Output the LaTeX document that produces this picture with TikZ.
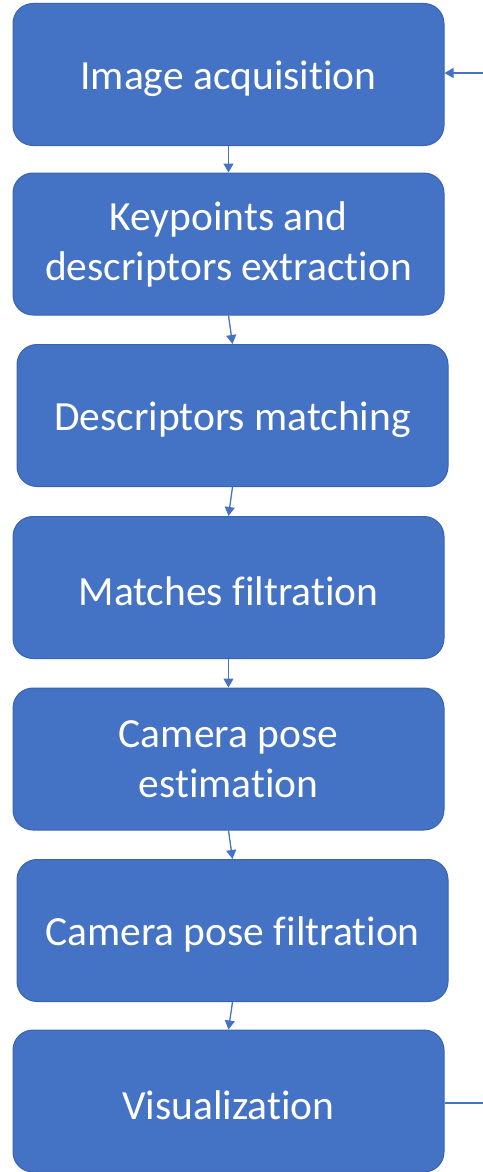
\documentclass[tikz,border=0pt]{standalone}
\usepackage{fontspec}
\setmainfont{Carlito}[Ligatures={NoCommon}]
\usetikzlibrary{arrows.meta}
\definecolor{boxblue}{HTML}{4472C4}
\definecolor{boxedge}{HTML}{3A64B0}
\tikzset{
  stepbox/.style={draw=boxedge, line width=1pt, fill=boxblue, rounded corners=20pt,
    minimum width=431pt, minimum height=142pt, text=white, align=center,
    font=\fontsize{41.5}{50}\selectfont, inner sep=0pt,
    execute at begin node={\rule{0pt}{37pt}}},
  flow/.style={draw=boxblue, line width=1.3pt, -{Triangle[width=10pt,length=9pt]}},
  plain/.style={draw=boxblue, line width=1.3pt}
}
\begin{document}
\begin{tikzpicture}[x=1pt,y=-1pt]
\useasboundingbox (0,0) rectangle (482,1172);
\node[stepbox] (n1) at (228.5,74.5) {Image acquisition};
\node[stepbox] (n2) at (228.5,244) {Keypoints and\\descriptors extraction};
\node[stepbox] (n3) at (232.5,415.5) {Descriptors matching};
\node[stepbox] (n4) at (228.5,587.5) {Matches filtration};
\node[stepbox] (n5) at (228.5,759) {Camera pose\\estimation};
\node[stepbox] (n6) at (232.5,930.5) {Camera pose filtration};
\node[stepbox] (n7) at (228.5,1101) {Visualization};
\coordinate (fbin) at (484,73);
\coordinate (fbout) at (484,1103);
\draw[flow] (n1.south) -- (n2.north);
\draw[flow] (n2.south) -- (n3.north);
\draw[flow] (n3.south) -- (n4.north);
\draw[flow] (n4.south) -- (n5.north);
\draw[flow] (n5.south) -- (n6.north);
\draw[flow] (n6.south) -- (n7.north);
\draw[flow] (fbin) -- (fbin -| n1.east);
\draw[plain] (fbout -| n7.east) -- (fbout);
\end{tikzpicture}
\end{document}
